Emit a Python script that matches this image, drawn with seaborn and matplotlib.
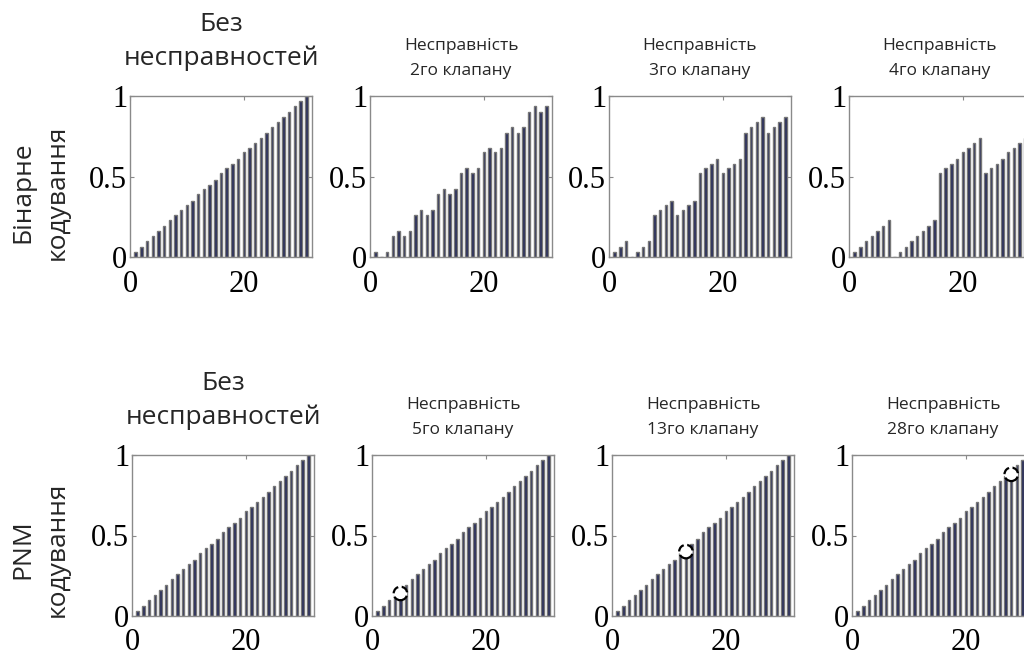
import matplotlib
matplotlib.use("Agg")
import matplotlib.pyplot as plt
import seaborn as sns
import numpy as np

# ---------------- data ----------------
bar_index = list(range(1, 32))

binary_no_fault = [0.03, 0.06, 0.10, 0.13, 0.16, 0.19, 0.23, 0.26, 0.29, 0.32, 0.35,
                   0.39, 0.42, 0.45, 0.48, 0.52, 0.55, 0.58, 0.61, 0.65, 0.68, 0.71,
                   0.74, 0.77, 0.81, 0.84, 0.87, 0.90, 0.94, 0.97, 1.00]
binary_valve2 = [0.03, 0.00, 0.03, 0.13, 0.16, 0.13, 0.16, 0.26, 0.29, 0.26, 0.29,
                 0.39, 0.42, 0.39, 0.42, 0.52, 0.55, 0.52, 0.55, 0.65, 0.68, 0.65,
                 0.68, 0.77, 0.81, 0.77, 0.81, 0.90, 0.94, 0.90, 0.94]
binary_valve3 = [0.03, 0.06, 0.10, 0.00, 0.03, 0.06, 0.10, 0.26, 0.29, 0.32, 0.35,
                 0.26, 0.29, 0.32, 0.35, 0.52, 0.55, 0.58, 0.61, 0.52, 0.55, 0.58,
                 0.61, 0.77, 0.81, 0.84, 0.87, 0.77, 0.81, 0.84, 0.87]
binary_valve4 = [0.03, 0.06, 0.10, 0.13, 0.16, 0.19, 0.23, 0.00, 0.03, 0.06, 0.10,
                 0.13, 0.16, 0.19, 0.23, 0.52, 0.55, 0.58, 0.61, 0.65, 0.68, 0.71,
                 0.74, 0.52, 0.55, 0.58, 0.61, 0.65, 0.68, 0.71, 0.74]
pnm_values = [0.03, 0.06, 0.10, 0.13, 0.16, 0.19, 0.23, 0.26, 0.29, 0.32, 0.35,
              0.39, 0.42, 0.45, 0.48, 0.52, 0.55, 0.58, 0.61, 0.65, 0.68, 0.71,
              0.74, 0.77, 0.81, 0.84, 0.87, 0.90, 0.94, 0.97, 1.00]

# faulty valve markers (x, y) in PNM row; None = no marker
pnm_fault_x = [None, 5, 13, 28]
pnm_fault_y = [None, 0.14, 0.40, 0.88]

row1_titles = ["Без\nнесправностей", "Несправність\n2го клапану",
               "Несправність\n3го клапану", "Несправність\n4го клапану"]
row2_titles = ["Без\nнесправностей", "Несправність\n5го клапану",
               "Несправність\n13го клапану", "Несправність\n28го клапану"]
row_labels = ["Бінарне\nкодування", "PNM\nкодування"]
x_ticks = [0, 20]
y_ticks = [0, 0.5, 1]
y_tick_labels = ["0", "0.5", "1"]

# ---------------- style ----------------
sns.set_theme(style="white")
plt.rcParams["font.family"] = ["Open Sans", "DejaVu Sans"]

W, H = 1024, 650
fig = plt.figure(figsize=(W / 100, H / 100), dpi=100)

bar_face = "#262a58"
bar_edge = "#777777"
frame_col = "#8a8a8a"

def px_axes(left, top, width, height):
    return fig.add_axes([left / W, 1 - (top + height) / H, width / W, height / H])

row1_lefts = [130, 370, 609, 849]
row2_lefts = [132, 372, 612, 852]
row_tops = [96, 455]
ax_w, ax_h = 182, 161

row_series = [[binary_no_fault, binary_valve2, binary_valve3, binary_valve4],
              [pnm_values, pnm_values, pnm_values, pnm_values]]
row_titles = [row1_titles, row2_titles]
row_lefts = [row1_lefts, row2_lefts]

for r in range(2):
    for c in range(4):
        ax = px_axes(row_lefts[r][c], row_tops[r], ax_w, ax_h)
        sns.barplot(x=bar_index, y=row_series[r][c], native_scale=True, width=0.42,
                    color=bar_face, saturation=1, edgecolor=bar_edge, linewidth=1.0,
                    ax=ax)
        if r == 1 and pnm_fault_x[c] is not None:
            sns.scatterplot(x=[pnm_fault_x[c]], y=[pnm_fault_y[c]], marker="o", s=95,
                            facecolor="white", edgecolor="black", linewidth=1.6,
                            linestyle="--", zorder=5, ax=ax, legend=False)
        ax.set_xlim(0, 32)
        ax.set_ylim(0, 1)
        ax.set_xticks(x_ticks)
        ax.set_xticklabels([str(t) for t in x_ticks], family="Liberation Serif",
                           fontsize=22)
        ax.set_yticks(y_ticks)
        ax.set_yticklabels(y_tick_labels, family="Liberation Serif", fontsize=22)
        ax.set_xlabel("")
        ax.set_ylabel("")
        ax.tick_params(direction="in", length=3, width=0.8, color=frame_col,
                       top=True, right=True, bottom=True, left=True,
                       labelcolor="black")
        ax.tick_params(axis="x", pad=9)
        ax.tick_params(axis="y", pad=2)
        for s in ax.spines.values():
            s.set_visible(True)
            s.set_color(frame_col)
            s.set_linewidth(1.0)
        if c == 0:
            ax.set_title(row_titles[r][c], fontsize=19, linespacing=1.45, pad=22)
        else:
            ax.set_title(row_titles[r][c], fontsize=12.5, linespacing=1.75, pad=15)

fig.text(40 / W, 1 - 192 / H, row_labels[0], rotation=90, ha="center", va="center",
         fontsize=19, linespacing=1.5)
fig.text(40 / W, 1 - 549 / H, row_labels[1], rotation=90, ha="center", va="center",
         fontsize=19, linespacing=1.5)

fig.savefig("out.png", dpi=100, facecolor="white")
